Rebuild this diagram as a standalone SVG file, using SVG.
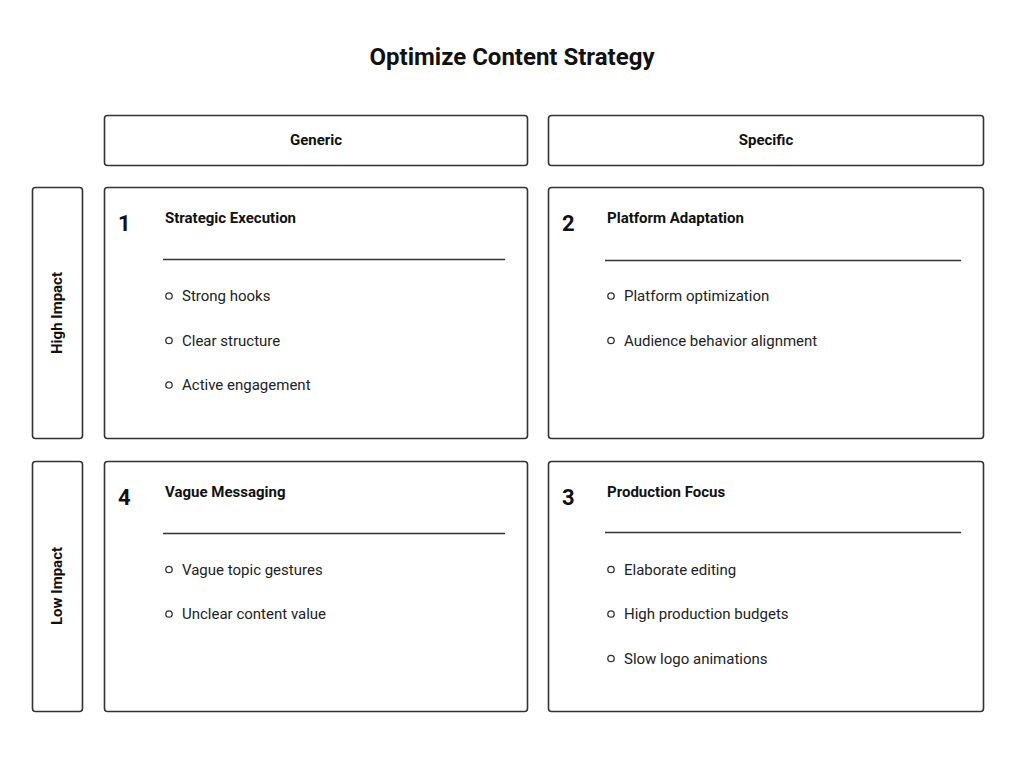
<svg xmlns="http://www.w3.org/2000/svg" width="1024" height="765" viewBox="0 0 1024 765">
<style>
.box{fill:#fff;stroke:#333;stroke-width:1.6}
.t{font-family:Roboto,"Liberation Sans",sans-serif;fill:#111}
.title{font-size:24px;font-weight:bold;text-anchor:middle}
.hdr{font-size:15px;font-weight:bold;text-anchor:middle}
.num{font-size:22px;font-weight:bold}
.head{font-size:15px;font-weight:bold}
.item{font-size:15px;fill:#222}
.rule{stroke:#333;stroke-width:1.6}
.dot{fill:none;stroke:#333;stroke-width:1.3}
</style>
<rect width="1024" height="765" fill="#fff"/>
<text class="t title" x="512" y="65">Optimize Content Strategy</text>
<g id="col-generic"><rect class="box" x="104.5" y="115.5" width="423" height="50" rx="3"/><text class="t hdr" x="316" y="145">Generic</text></g>
<g id="col-specific"><rect class="box" x="548.5" y="115.5" width="435" height="50" rx="3"/><text class="t hdr" x="766" y="145">Specific</text></g>
<g id="row-high"><rect class="box" x="32.5" y="187.5" width="50" height="251" rx="3"/><text class="t hdr" transform="translate(62,313) rotate(-90)">High Impact</text></g>
<g id="row-low"><rect class="box" x="32.5" y="461.5" width="50" height="250" rx="3"/><text class="t hdr" transform="translate(62,586) rotate(-90)">Low Impact</text></g>
<g id="q1">
<rect class="box" x="104.5" y="187.5" width="423" height="251" rx="3"/>
<text class="t num" x="118" y="231">1</text>
<text class="t head" x="165" y="223">Strategic Execution</text>
<line class="rule" x1="163" y1="259.5" x2="505" y2="259.5"/>
<circle class="dot" cx="169" cy="296" r="3.2"/><text class="t item" x="182" y="301">Strong hooks</text>
<circle class="dot" cx="169" cy="340.5" r="3.2"/><text class="t item" x="182" y="346">Clear structure</text>
<circle class="dot" cx="169" cy="385" r="3.2"/><text class="t item" x="182" y="390">Active engagement</text>
</g>
<g id="q2">
<rect class="box" x="548.5" y="187.5" width="435" height="251" rx="3"/>
<text class="t num" x="562" y="231">2</text>
<text class="t head" x="607" y="223">Platform Adaptation</text>
<line class="rule" x1="605" y1="260.5" x2="961" y2="260.5"/>
<circle class="dot" cx="611" cy="296" r="3.2"/><text class="t item" x="624" y="301">Platform optimization</text>
<circle class="dot" cx="611" cy="340.5" r="3.2"/><text class="t item" x="624" y="346">Audience behavior alignment</text>
</g>
<g id="q4">
<rect class="box" x="104.5" y="461.5" width="423" height="250" rx="3"/>
<text class="t num" x="118" y="505">4</text>
<text class="t head" x="165" y="497">Vague Messaging</text>
<line class="rule" x1="163" y1="533.5" x2="505" y2="533.5"/>
<circle class="dot" cx="169" cy="569.5" r="3.2"/><text class="t item" x="182" y="575">Vague topic gestures</text>
<circle class="dot" cx="169" cy="614" r="3.2"/><text class="t item" x="182" y="619">Unclear content value</text>
</g>
<g id="q3">
<rect class="box" x="548.5" y="461.5" width="435" height="250" rx="3"/>
<text class="t num" x="562" y="505">3</text>
<text class="t head" x="607" y="497">Production Focus</text>
<line class="rule" x1="605" y1="532.5" x2="961" y2="532.5"/>
<circle class="dot" cx="611" cy="569.5" r="3.2"/><text class="t item" x="624" y="575">Elaborate editing</text>
<circle class="dot" cx="611" cy="614" r="3.2"/><text class="t item" x="624" y="619">High production budgets</text>
<circle class="dot" cx="611" cy="658.5" r="3.2"/><text class="t item" x="624" y="664">Slow logo animations</text>
</g>
<g id="connectors"></g>
</svg>
